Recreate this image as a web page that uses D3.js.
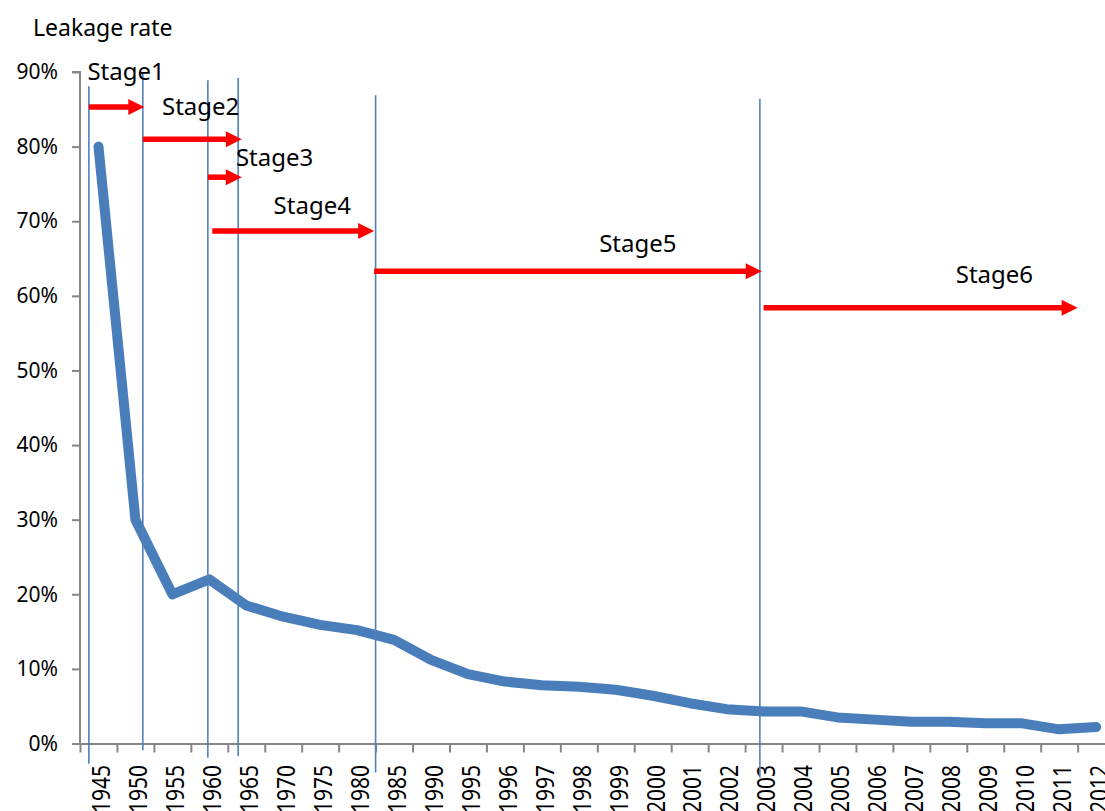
<!DOCTYPE html>
<html>
<head>
<meta charset="utf-8">
<script src="https://cdn.jsdelivr.net/npm/d3@7"></script>
<style>
  html, body { margin: 0; padding: 0; background: #fff; }
  svg { display: block; }
  text { font-family: "Noto Sans", "DejaVu Sans", sans-serif; fill: #000; }
</style>
</head>
<body>
<svg id="chart" width="1105" height="811"></svg>
<script>
// ---- data ----
const categories = ["1945","1950","1955","1960","1965","1970","1975","1980","1985","1990",
  "1995","1996","1997","1998","1999","2000","2001","2002","2003","2004",
  "2005","2006","2007","2008","2009","2010","2011","2012"];
const leakage = [0.80,0.30,0.20,0.22,0.185,0.17,0.159,0.152,0.139,0.112,
  0.093,0.083,0.078,0.076,0.072,0.064,0.054,0.046,0.043,0.043,
  0.035,0.032,0.029,0.029,0.027,0.027,0.019,0.022];
const yTicks = [0,0.1,0.2,0.3,0.4,0.5,0.6,0.7,0.8,0.9];

const stageNames = ["Stage1","Stage2","Stage3","Stage4","Stage5","Stage6"];
const stageStart = [1943.7, 1951.0, 1959.8, 1960.4, 1982.3, 2003.0];
const stageEnd   = [1951.2, 1964.4, 1964.4, 1982.3, 2002.95, 2011.5];
const stageArrowPct = [0.853, 0.810, 0.759, 0.687, 0.633, 0.584];
const stageLabelYear = [1943.5, 1953.6, 1963.6, 1968.7, 1998.55, 2008.2];
const stageLabelPct  = [0.889, 0.842, 0.774, 0.710, 0.659, 0.617];

const boundaryYears = [1943.7, 1951.0, 1959.8, 1963.9, 1982.5, 2002.9];
const boundaryTopPct = [0.881, 0.900, 0.889, 0.892, 0.869, 0.864];
const boundaryBottomPct = [-0.027, -0.009, -0.019, -0.017, -0.039, -0.046];

// ---- layout ----
const left = 80, step = 36.95;
const plotW = step * categories.length;
const yTop = 72, yBottom = 743.5;

const svg = d3.select("#chart");

const x = d3.scaleBand().domain(categories).range([left, left + plotW]).padding(0);
const y = d3.scaleLinear().domain([0, 0.9]).range([yBottom, yTop]);
const xYear = d3.scaleLinear()
  .domain(categories.map(Number))
  .range(categories.map(c => x(c) + x.bandwidth() / 2));

const axisColor = "#868686";

// Y axis
const yAxis = svg.append("g").attr("transform", `translate(${left},0)`)
  .call(d3.axisLeft(y).tickValues(yTicks).tickFormat(d3.format(".0%")).tickSize(8).tickPadding(14));
yAxis.select(".domain").attr("stroke", axisColor).attr("stroke-width", 2).attr("d", `M-8,${yTop}H0V${yBottom}`);
yAxis.selectAll(".tick line").attr("stroke", axisColor).attr("stroke-width", 2);
yAxis.selectAll(".tick text").style("font-family", "Noto Sans").style("font-size", "21px").attr("fill", "#000");

// X axis: ticks at category boundaries
const xb = d3.scaleLinear().domain([0, categories.length]).range([left, left + plotW]);
const xAxis = svg.append("g").attr("transform", `translate(0,${yBottom})`)
  .call(d3.axisBottom(xb).tickValues(d3.range(categories.length + 1)).tickFormat("").tickSize(9).tickSizeOuter(0));
xAxis.select(".domain").attr("stroke", axisColor).attr("stroke-width", 2);
xAxis.selectAll(".tick line").attr("stroke", axisColor).attr("stroke-width", 2);

// X labels rotated
svg.append("g").selectAll("text").data(categories).join("text")
  .attr("transform", d => `translate(${x(d) + x.bandwidth() / 2 + 2},765) rotate(-90) scale(1,1.2)`)
  .attr("text-anchor", "end")
  .attr("dominant-baseline", "central")
  .style("font-size", "21px")
  .text(d => d);

// Axis title
svg.append("text").attr("x", 33).attr("y", 36).style("font-size", "23px").text("Leakage rate");

// Data line
const line = d3.line()
  .x((d, i) => x(categories[i]) + x.bandwidth() / 2)
  .y(d => y(d))
  .curve(d3.curveLinear);
svg.append("path").datum(leakage)
  .attr("d", line)
  .attr("fill", "none")
  .attr("stroke", "#4a7ebb")
  .attr("stroke-width", 10)
  .attr("stroke-linecap", "round")
  .attr("stroke-linejoin", "round");

// Stage boundary lines
svg.append("g").selectAll("line").data(boundaryYears).join("line")
  .attr("x1", d => xYear(d)).attr("x2", d => xYear(d))
  .attr("y1", (d, i) => y(boundaryTopPct[i]))
  .attr("y2", (d, i) => y(boundaryBottomPct[i]))
  .attr("stroke", "#4f81bd").attr("stroke-width", 1.6);

// Stage arrows
const headLen = 16, headHalf = 8;
const arrows = svg.append("g");
stageNames.forEach((name, i) => {
  const x0 = xYear(stageStart[i]), x1 = xYear(stageEnd[i]), yy = y(stageArrowPct[i]);
  arrows.append("line")
    .attr("x1", x0).attr("x2", x1 - headLen + 1)
    .attr("y1", yy).attr("y2", yy)
    .attr("stroke", "#ff0000").attr("stroke-width", 5.5);
  arrows.append("path")
    .attr("d", `M${x1 - headLen},${yy - headHalf}L${x1},${yy}L${x1 - headLen},${yy + headHalf}Z`)
    .attr("fill", "#ff0000");
});

// Stage labels
svg.append("g").selectAll("text").data(stageNames).join("text")
  .attr("x", (d, i) => xYear(stageLabelYear[i]))
  .attr("y", (d, i) => y(stageLabelPct[i]))
  .style("font-size", "24px")
  .text(d => d);
</script>
</body>
</html>
